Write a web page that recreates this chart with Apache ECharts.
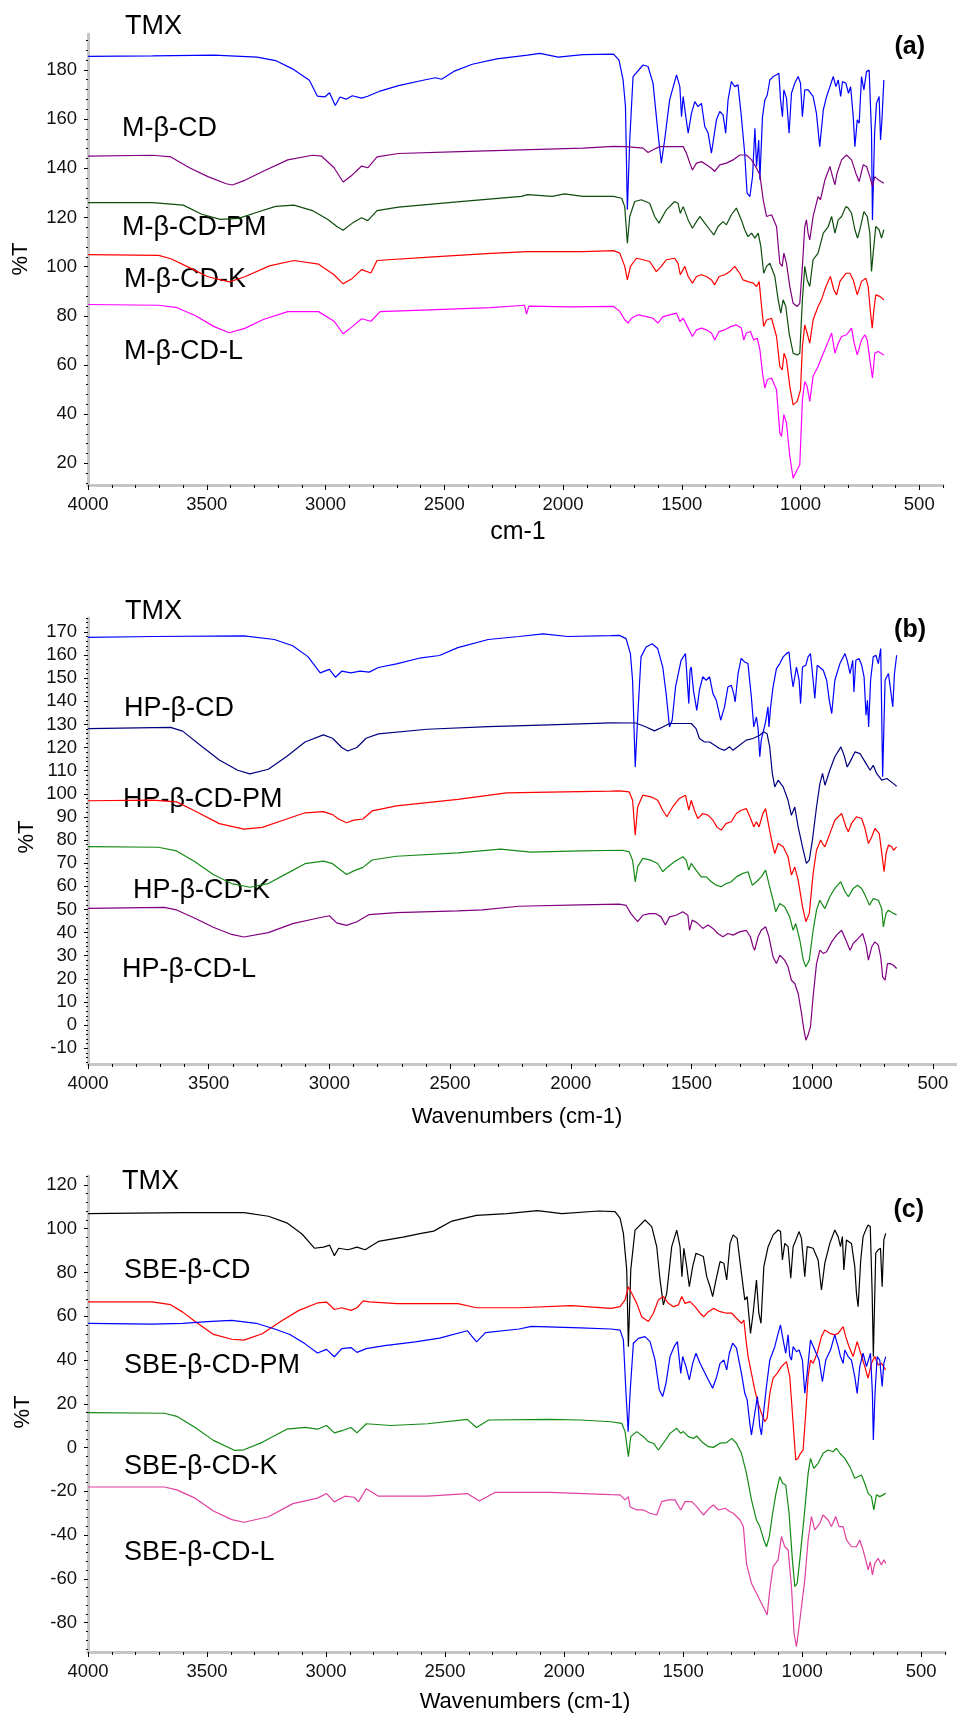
<!DOCTYPE html>
<html>
<head>
<meta charset="utf-8">
<title>FTIR spectra</title>
<script src="https://cdn.jsdelivr.net/npm/echarts@6/dist/echarts.min.js"></script>
<style>
  html, body { margin: 0; padding: 0; background: #ffffff; }
  #chart { width: 957px; height: 1713px; }
</style>
</head>
<body>
<div id="chart"></div>
<script>
// ---------- axis tick values ----------
const X_TICKS = [4000, 3500, 3000, 2500, 2000, 1500, 1000, 500];
const Y_TICKS_A = [20, 40, 60, 80, 100, 120, 140, 160, 180];
const Y_TICKS_B = [-10, 0, 10, 20, 30, 40, 50, 60, 70, 80, 90, 100, 110, 120, 130, 140, 150, 160, 170];
const Y_TICKS_C = [-80, -60, -40, -20, 0, 20, 40, 60, 80, 100, 120];

// ---------- panel (a): [wavenumber cm-1, %T] ----------
const TMX_A = [[4000,185.5],[3728,185.7],[3469,186],[3288,185.2],[3210,183.8],[3133,180.1],[3068,175.8],[3034,169.3],[3003,169],[2983,170.7],[2959,165.5],[2939,169],[2913,168.1],[2887,169.5],[2848,168.5],[2822,169.3],[2770,171.4],[2693,173.6],[2589,175.8],[2537,176.8],[2511,176.2],[2460,179.4],[2382,182.3],[2279,184.5],[2149,186],[2097,186.7],[2020,185.2],[1916,186.2],[1787,186.4],[1764,184],[1747,175.9],[1737,165.1],[1729,123.1],[1719,151.5],[1705,177.3],[1663,182],[1642,181.4],[1621,174.6],[1600,154.3],[1586,142.1],[1572,151.5],[1551,167.8],[1522,178],[1508,173.2],[1501,161],[1494,169.2],[1483,161],[1473,154.3],[1459,162.4],[1445,167.1],[1431,165.1],[1417,166.4],[1403,157],[1389,154.3],[1375,146.1],[1354,159.7],[1340,163.1],[1326,161.7],[1315,154.3],[1305,167.8],[1291,175.3],[1277,173.2],[1263,173.9],[1249,161],[1235,146.1],[1225,129.9],[1213,128.5],[1202,136.6],[1192,156.3],[1185,140.7],[1176,151.5],[1171,135.3],[1160,161],[1150,167.8],[1140,169.8],[1129,175.9],[1115,177.3],[1101,178],[1091,178.6],[1084,167.8],[1076,161],[1070,171.9],[1059,168.5],[1048,154.3],[1038,170.5],[1024,174.6],[1010,177.3],[1000,174.6],[992,161],[982,171.9],[968,171.9],[947,169.2],[933,162.4],[919,148.8],[904,163.7],[890,169.2],[876,173.2],[862,177.3],[851,173.2],[841,175.9],[831,169.2],[823,175.3],[809,174.6],[798,170.5],[789,173.2],[778,161],[771,148.8],[761,159.7],[753,158.3],[743,177.3],[733,171.9],[722,179.3],[711,180],[701,154.3],[697,119],[688,154.3],[680,166.4],[669,169.2],[663,151.5],[657,159.7],[649,175.9]];
const MBCD_A = [[4000,144.9],[3728,145.3],[3651,144.6],[3573,140.2],[3495,136.6],[3418,133.7],[3392,133.2],[3340,135.1],[3262,138.8],[3159,143.4],[3055,145.3],[3016,144.9],[2964,140.2],[2926,134.4],[2887,137.3],[2848,140.9],[2822,140.2],[2783,144.6],[2693,146],[2434,146.8],[2175,147.5],[1916,148.2],[1787,148.9],[1733,148.8],[1663,148.2],[1642,146.4],[1621,147.5],[1593,148.8],[1565,148.8],[1494,148.8],[1480,146.1],[1466,142.1],[1455,139.3],[1438,142.1],[1417,142.7],[1396,141.4],[1375,140],[1361,138.7],[1340,141.4],[1312,142.1],[1284,143.4],[1256,145.4],[1228,145.4],[1206,143.4],[1185,140],[1171,137.3],[1157,127.2],[1143,120.4],[1122,121.1],[1101,116.3],[1087,101.4],[1077,100.1],[1070,105.5],[1059,101.4],[1045,91.9],[1031,85.1],[1014,83.8],[1003,85.1],[992,100.1],[982,116.3],[975,119],[968,113.6],[961,110.9],[947,120.4],[926,128.5],[916,127.2],[897,135.3],[876,140.7],[865,136.6],[855,133.3],[846,138],[827,143.4],[806,145.4],[785,143.4],[767,138],[753,134.6],[736,141.4],[722,140.7],[708,136.6],[697,132.6],[687,136.6],[673,135.3],[649,133.9]];
const MBCD_PM_A = [[4000,126],[3728,126],[3599,125],[3521,121.3],[3443,119.2],[3366,119.6],[3288,122.1],[3210,124.5],[3133,125],[3055,122.8],[2990,119.2],[2952,116.3],[2926,114.8],[2887,117.7],[2848,119.9],[2822,118.7],[2783,122.8],[2693,124.2],[2434,126.4],[2175,128.6],[2149,129.3],[2045,128.6],[1994,129.6],[1916,128.6],[1787,128.6],[1753,127.8],[1740,124.4],[1729,109.5],[1719,120.4],[1698,126.5],[1670,127.2],[1635,125.8],[1614,120.4],[1596,117.7],[1565,123.1],[1530,126.5],[1516,125.8],[1506,121.7],[1494,124.4],[1473,119],[1455,115.6],[1438,118.3],[1424,120.4],[1403,117.7],[1382,115],[1365,112.9],[1347,116.3],[1326,118.3],[1312,117],[1291,121.1],[1270,123.8],[1249,119],[1235,115],[1221,112.2],[1206,113.6],[1192,111.6],[1178,113.6],[1167,108.2],[1155,97.3],[1143,100.1],[1129,101.4],[1108,96],[1094,86.5],[1083,81.1],[1073,86.5],[1062,83.8],[1048,73],[1031,64.8],[1014,64.1],[1003,64.8],[992,86.5],[982,100.1],[972,94.6],[961,91.9],[947,102.8],[926,105.5],[904,113.6],[883,116.3],[869,120.4],[855,113.6],[841,119],[827,120.4],[809,124.4],[799,123.8],[785,121.7],[771,115],[760,111.6],[750,115],[733,122.4],[719,120.4],[708,113.6],[701,98],[694,105.5],[683,116.3],[669,115],[659,111.6],[649,115]];
const MBCD_K_A = [[4000,104.9],[3702,104.6],[3651,103.2],[3573,99.6],[3495,95.9],[3405,93.8],[3340,95.9],[3236,100.3],[3133,102.5],[3029,101],[2964,96.7],[2926,93],[2887,95.2],[2848,98.8],[2809,97.4],[2783,102.5],[2563,103.9],[2304,105.4],[2149,106.1],[1916,106.1],[1787,106.5],[1761,105.5],[1740,100.1],[1729,94.6],[1716,100.1],[1691,103.4],[1663,102.8],[1635,102.1],[1607,98],[1586,100.1],[1565,102.8],[1530,103.4],[1516,101.4],[1506,96.7],[1487,100.1],[1473,96],[1455,93.3],[1438,96],[1417,96.7],[1396,96],[1375,94.6],[1361,92.6],[1343,96],[1319,96.7],[1298,98],[1277,100.1],[1256,97.3],[1242,94.6],[1221,93.9],[1199,93.3],[1185,91.9],[1174,93.9],[1164,83.8],[1155,75.7],[1143,78.3],[1122,79],[1101,71.6],[1087,59.4],[1077,58],[1069,64.8],[1059,62.1],[1045,51.3],[1031,43.8],[1014,45.2],[1000,49.9],[992,67.5],[982,76.3],[972,72.9],[961,68.9],[947,78.3],[926,83.8],[912,86.5],[893,91.9],[874,96],[860,90.6],[848,88.5],[834,94],[809,97.3],[792,97.3],[778,94.6],[761,88.5],[743,94],[725,95.3],[715,91.9],[705,81.1],[698,75],[691,82.4],[683,88.5],[666,87.9],[649,86.5]];
const MBCD_L_A = [[4000,84.6],[3702,84.3],[3625,83.3],[3547,80],[3469,75.6],[3405,73.1],[3340,74.9],[3262,78.5],[3159,81.7],[3029,81.7],[2964,77.8],[2926,72.7],[2887,75.6],[2848,78.8],[2809,77.8],[2770,81.7],[2563,82.4],[2304,83.3],[2162,84.3],[2154,80.7],[2144,83.9],[1968,83.6],[1787,83.8],[1761,81.8],[1740,78.4],[1726,77],[1712,79],[1684,80.4],[1649,79.7],[1621,79],[1600,77],[1579,79.7],[1551,80.4],[1522,81.1],[1508,77.7],[1494,79],[1473,75],[1455,71.6],[1438,74.3],[1417,75],[1396,74.3],[1375,73],[1361,70.2],[1343,73.6],[1319,74.3],[1291,75.7],[1270,76.3],[1249,75],[1239,70.2],[1228,73],[1211,73.6],[1197,70.2],[1182,70.9],[1171,66.2],[1160,56.7],[1150,50.6],[1140,54],[1122,54.7],[1101,49.9],[1087,32.3],[1080,31],[1070,39.8],[1059,36.4],[1045,22.8],[1031,14],[1014,17.4],[1003,19.4],[992,45.9],[982,53.3],[972,51.3],[961,45.2],[947,55.4],[926,59.4],[904,64.8],[883,69.6],[869,73],[855,64.8],[841,68.9],[827,71.6],[806,72.3],[785,75],[774,68.9],[761,64.1],[743,70.2],[729,72.3],[719,70.2],[708,62.1],[697,54.7],[687,64.8],[673,65.5],[649,64.1]];

// ---------- panel (b) ----------
const TMX_B = [[4000,167.6],[3734,168],[3354,168.3],[3228,166.7],[3152,164],[3089,159.3],[3038,152.3],[3000,153.8],[2975,150.4],[2949,153],[2911,152.3],[2873,153],[2835,152.6],[2797,154.6],[2722,156.2],[2620,158.8],[2544,159.8],[2468,163.2],[2342,166.7],[2215,168],[2114,169.1],[2013,168],[1835,168.4],[1799,168.5],[1771,167.1],[1753,160.6],[1744,149.1],[1733,111.6],[1722,134.7],[1709,159.2],[1688,163.5],[1663,164.9],[1640,162.8],[1619,154.8],[1605,143.3],[1591,128.9],[1580,131.8],[1566,146.2],[1543,157.7],[1525,160.6],[1511,139],[1506,153.4],[1501,154.8],[1492,144.8],[1478,136.1],[1467,144.8],[1453,150.6],[1439,149.1],[1425,150.6],[1411,143.3],[1397,140.4],[1379,131.8],[1363,137.6],[1349,146.2],[1335,146.9],[1325,143.3],[1319,139.7],[1307,152],[1294,158.5],[1280,157],[1266,156.3],[1252,141.9],[1242,128.9],[1231,133.2],[1224,128.2],[1217,116],[1211,123.2],[1201,127.5],[1193,131.1],[1183,137.6],[1179,128.9],[1172,137.6],[1162,146.2],[1148,154.1],[1134,156.3],[1120,159.2],[1107,160.6],[1096,161.3],[1086,151.3],[1079,146.2],[1065,154.8],[1054,149.1],[1048,139],[1040,154.8],[1026,155.6],[1017,159.2],[1007,160.6],[996,149.1],[989,141.2],[979,155.6],[954,153.4],[940,149.1],[929,140.4],[919,134.7],[906,149.1],[885,156.3],[864,160.6],[855,157.7],[843,152],[832,157.7],[827,144],[819,157.7],[806,158.5],[795,155.6],[785,150.6],[777,134],[771,140.4],[766,128.9],[758,149.1],[747,159.2],[736,159.9],[726,156.3],[716,162.8],[708,107.4],[698,149.1],[684,152],[677,152.7],[666,137.6],[659,152],[650,159.9]];
const HPBCD_B = [[4000,128.2],[3658,128.7],[3608,127.1],[3532,120.8],[3456,114.6],[3380,110.2],[3329,108.6],[3253,110.6],[3177,116.1],[3101,122.4],[3025,125.5],[2987,124],[2949,120],[2924,118.5],[2886,120],[2848,124],[2797,125.9],[2595,127.9],[2342,129],[2089,129.8],[1835,130.7],[1730,130.6],[1688,128.9],[1653,127.2],[1619,128.9],[1591,130.4],[1501,130.4],[1481,128.2],[1467,123.9],[1446,122.4],[1425,122.4],[1404,121],[1384,119.6],[1363,118.8],[1342,120.3],[1328,118.8],[1301,121],[1273,123.2],[1245,123.9],[1217,125.3],[1201,126.8],[1187,126],[1176,120.3],[1165,108.8],[1155,103],[1141,105.9],[1120,103],[1100,97.2],[1086,90.7],[1072,94.3],[1058,85.7],[1040,77.1],[1024,69.9],[1012,71.3],[999,80],[982,94.3],[968,104.4],[957,108.8],[947,103.7],[927,110.2],[906,116],[881,120.3],[868,116.7],[855,111.6],[843,113.8],[823,118.1],[802,117.4],[781,113.8],[760,110.2],[747,112.3],[733,108.8],[712,105.9],[691,106.6],[663,104.4],[650,103.3]];
const HPBCD_PM_B = [[4000,97],[3734,97.3],[3633,96.5],[3557,92.6],[3456,87.1],[3354,84.7],[3278,85.5],[3177,89.1],[3101,91.8],[3025,92.3],[2987,91],[2962,89.1],[2929,87.5],[2899,88.6],[2861,89.1],[2823,92.6],[2722,94.8],[2468,97.6],[2266,100.4],[2089,100.7],[1835,101.2],[1799,101.3],[1758,100.8],[1744,97.2],[1733,82.1],[1723,94.3],[1702,99.4],[1668,98.7],[1640,97.2],[1619,92.9],[1602,90.1],[1578,94.3],[1550,98],[1525,99.4],[1511,92.9],[1501,97.2],[1488,92.9],[1474,89.3],[1453,91.5],[1432,90.8],[1411,88.6],[1395,85.7],[1377,84.3],[1356,87.2],[1335,87.9],[1314,91.5],[1294,92.9],[1273,93.6],[1252,88.6],[1242,85.7],[1231,87.9],[1220,85.7],[1204,91.5],[1193,93.6],[1179,85.7],[1165,78.5],[1155,74.2],[1141,78.5],[1120,77.1],[1100,72.8],[1086,64.9],[1072,68.4],[1058,62.7],[1040,51.2],[1026,44.7],[1012,48.2],[996,65.6],[982,75.6],[965,80],[957,78.5],[947,77.1],[927,82.8],[906,88.6],[878,91.5],[860,85.7],[850,83.6],[837,87.2],[816,90.1],[795,89.3],[781,85],[767,78.5],[753,81.4],[740,85],[722,82.8],[708,71.3],[702,66.3],[694,74.2],[684,77.8],[670,77.1],[663,75.6],[650,77.1]];
const HPBCD_K_B = [[4000,77.2],[3709,76.9],[3633,75.3],[3557,70.6],[3481,65.1],[3405,61.2],[3329,59.6],[3253,61.2],[3177,65.5],[3101,69.8],[3025,70.9],[2987,69.8],[2949,66.7],[2929,65.1],[2899,66.7],[2861,68.2],[2823,71.4],[2722,73],[2468,74.5],[2291,76.1],[2165,74.8],[1962,75.3],[1785,75.6],[1758,74.9],[1744,71.3],[1733,61.9],[1723,68.4],[1702,72.1],[1668,71.3],[1640,69.9],[1619,66.3],[1598,68.4],[1571,70.6],[1536,72.8],[1522,71.3],[1511,67],[1501,69.9],[1481,67],[1460,64.1],[1439,64.1],[1418,62],[1397,60.5],[1377,59.8],[1356,61.2],[1335,62],[1314,64.1],[1287,65.6],[1266,66.3],[1248,60.5],[1231,62],[1211,64.1],[1193,67],[1176,59.8],[1162,54],[1151,49],[1134,52.6],[1114,51.2],[1093,46.8],[1079,41],[1068,43.9],[1051,36.7],[1037,28.1],[1026,25.2],[1012,28.1],[996,41],[982,49.7],[968,54],[957,51.9],[947,50.4],[927,55.5],[906,59.1],[882,62],[864,57.7],[850,55.5],[830,59.1],[812,60.5],[795,59.1],[781,56.2],[763,51.9],[747,54.7],[726,54],[712,50.4],[705,42.5],[694,48.3],[684,49.7],[663,48.3],[650,47.6]];
const HPBCD_L_B = [[4000,50.5],[3684,50.9],[3633,49.8],[3557,46.2],[3481,42.3],[3405,39.2],[3354,38.1],[3253,40],[3152,43.9],[3051,46.2],[3000,47.3],[2970,44.2],[2929,43.1],[2886,44.7],[2835,47.8],[2722,48.6],[2468,49.4],[2367,49.8],[2215,51.4],[1962,52],[1799,52.3],[1771,51.8],[1751,48.2],[1723,44.7],[1702,47.5],[1674,48.2],[1647,48.2],[1626,46.8],[1608,43.3],[1591,46.8],[1564,47.5],[1536,49],[1515,47.5],[1508,41],[1497,45.4],[1474,44],[1453,41.8],[1432,43.3],[1411,41.8],[1391,39.6],[1370,38.2],[1349,39.6],[1328,38.9],[1301,40.3],[1273,41],[1256,38.2],[1245,33.9],[1238,32.4],[1224,38.2],[1211,41],[1193,42.5],[1179,38.2],[1162,29.5],[1148,26.6],[1134,30.2],[1114,28.1],[1100,25.2],[1086,19.4],[1072,18],[1058,13.7],[1044,5],[1035,-1.5],[1026,-6.5],[1017,-4.3],[1007,-0.7],[996,12.3],[982,26.6],[968,32.4],[954,31],[940,31.7],[919,36],[899,38.9],[878,41],[860,36.7],[843,32.4],[830,35.3],[809,37.5],[791,39.6],[777,34.6],[767,28.1],[753,33.9],[740,36],[726,34.6],[716,29.5],[708,20.9],[698,19.4],[688,26.6],[677,26.6],[663,25.9],[650,24.5]];

// ---------- panel (c) ----------
const TMX_C = [[4000,106.9],[3602,107.4],[3345,107.4],[3242,105.7],[3165,102.7],[3101,97.6],[3049,91.1],[3011,91.6],[2985,92.5],[2965,87.7],[2947,91.1],[2908,90.4],[2870,91.6],[2836,90.4],[2780,94.2],[2677,96.2],[2600,97.9],[2548,98.9],[2471,103.5],[2368,106.1],[2240,106.9],[2112,108.3],[2009,106.9],[1855,108.1],[1786,107.8],[1765,104.8],[1751,97.9],[1737,81.2],[1730,46.1],[1720,81.2],[1702,99.4],[1660,104],[1632,101],[1611,91.8],[1597,76.6],[1583,65.2],[1569,70.5],[1548,91.8],[1527,99.4],[1513,91.8],[1505,78.1],[1497,91.1],[1485,82.7],[1474,73.5],[1460,82.7],[1446,88.8],[1429,88],[1415,87.3],[1401,78.1],[1387,73.5],[1376,69],[1362,76.6],[1345,85],[1329,84.2],[1317,76.6],[1303,93.3],[1290,97.2],[1273,95.6],[1255,79.6],[1241,67.5],[1231,69],[1217,52.2],[1206,61.4],[1192,76.6],[1182,61.4],[1173,56.8],[1161,82.7],[1143,91.8],[1122,97.2],[1101,99.4],[1091,98.7],[1083,85.7],[1073,93.3],[1059,91.8],[1048,77.4],[1038,91.8],[1024,95.6],[1013,98.7],[1003,95.6],[989,78.1],[979,91.8],[954,91.1],[933,85.7],[919,72],[905,84.2],[884,93.3],[863,99.4],[849,96.4],[839,91.8],[831,96.4],[825,81.2],[814,94.9],[793,93.3],[779,82.7],[772,70.5],[765,64.4],[754,85.7],[744,96.4],[733,99.4],[723,101.7],[714,101],[706,70.5],[701,41.6],[691,88.8],[681,90.3],[671,91.1],[664,73.5],[657,94.9],[649,97.9]];
const SBECD_C = [[4000,66.6],[3730,66.6],[3653,65.3],[3602,61.9],[3550,57.6],[3473,51.7],[3396,49.5],[3345,49.1],[3268,52],[3191,57.6],[3114,62.7],[3036,66.1],[2998,66.5],[2965,63.1],[2934,63.9],[2895,62.7],[2870,63.9],[2844,67],[2818,66.6],[2702,65.8],[2446,65.8],[2368,63.9],[2189,63.9],[1970,64.9],[1803,63.6],[1765,64.4],[1744,67.5],[1730,73.5],[1716,70.5],[1695,65.9],[1674,59.8],[1646,57.6],[1625,61.4],[1604,67.5],[1583,69],[1562,65.9],[1541,64.4],[1520,65.2],[1506,69],[1492,65.9],[1471,66.7],[1450,64.4],[1429,61.4],[1413,59.8],[1394,62.1],[1373,63.6],[1345,62.1],[1317,61.4],[1296,61.4],[1276,59.1],[1255,56.8],[1245,58.3],[1236,49.2],[1227,41.6],[1213,33.9],[1199,26.3],[1185,20.2],[1171,15.7],[1157,11.9],[1147,13.4],[1136,24.8],[1122,31.7],[1105,33.9],[1087,37],[1066,39.3],[1052,32.4],[1038,11.1],[1027,-5.7],[1017,-4.9],[1007,-2.6],[996,-1.1],[985,15.7],[975,32.4],[965,40],[954,38.5],[937,43.1],[919,50.7],[905,53.7],[884,52.2],[863,51.5],[849,52.2],[828,55.3],[817,50.7],[803,46.1],[786,41.6],[769,48.4],[754,43.1],[737,37],[723,31.7],[709,38.5],[695,41.6],[681,37.7],[667,38.5],[649,35.5]];
const SBECD_PM_C = [[4000,56.8],[3730,56.4],[3602,56.8],[3499,57.6],[3396,58.1],[3293,56.8],[3216,54.2],[3152,51.7],[3088,47.4],[3036,43.2],[2998,44.9],[2965,41.5],[2934,45.2],[2895,45.7],[2870,43.5],[2831,45.2],[2754,46.6],[2625,48.3],[2523,50],[2407,53.4],[2368,48.3],[2330,52.5],[2189,54.2],[2137,55.4],[1932,54.7],[1803,54.2],[1765,53.7],[1751,49.2],[1740,24.8],[1731,7.3],[1723,24.8],[1709,47.7],[1688,49.9],[1660,50.7],[1639,48.4],[1618,40],[1600,26.3],[1586,23.3],[1572,29.4],[1555,41.6],[1538,46.1],[1524,48.4],[1510,33.9],[1502,41.6],[1488,37],[1474,30.9],[1460,38.5],[1446,43.1],[1429,38.5],[1415,35.5],[1394,30.9],[1376,27.1],[1359,32.4],[1345,38.5],[1329,40],[1317,35.5],[1306,43.1],[1292,47.7],[1276,45.4],[1255,33.9],[1241,24.8],[1231,21.8],[1220,11.1],[1213,5.8],[1199,15.7],[1188,23.3],[1178,9.6],[1171,5.8],[1161,17.2],[1150,27.9],[1136,40],[1115,46.1],[1101,52.2],[1091,56],[1080,49.2],[1069,43.1],[1059,51.5],[1052,41.6],[1045,40],[1038,46.1],[1024,43.8],[1013,44.6],[999,40],[989,24.8],[979,33.9],[965,49.2],[947,44.6],[929,40],[915,30.1],[901,40],[881,44.6],[863,51.5],[849,46.1],[839,41.6],[828,38.5],[821,44.6],[807,41.6],[793,40],[779,32.4],[769,24.8],[758,37],[744,43.1],[730,37],[713,43.1],[705,24.8],[701,3.5],[694,24.8],[685,41.6],[674,40],[664,27.9],[657,38.5],[649,41.6]];
const SBECD_K_C = [[4000,16],[3679,15.7],[3627,14.3],[3550,9.2],[3473,3.3],[3383,-1.3],[3345,-1],[3268,2.4],[3165,8.4],[3088,9.2],[3036,8.4],[2998,10.1],[2965,6.7],[2929,7.9],[2895,9.2],[2870,6.7],[2831,10.9],[2728,10.1],[2574,10.9],[2407,12.9],[2368,9.2],[2317,12.6],[2060,12.9],[1932,12.6],[1803,11.8],[1758,11.1],[1744,7.3],[1730,-4.1],[1720,5],[1695,7.3],[1667,5],[1646,2.7],[1625,2],[1604,-1.1],[1583,2],[1555,6.5],[1527,8.8],[1510,6.5],[1499,7.3],[1478,5],[1457,4.2],[1443,5.3],[1422,2.7],[1394,0.4],[1373,0.1],[1345,2],[1317,2.3],[1296,4.2],[1276,2],[1255,-2.6],[1234,-11.8],[1213,-23.9],[1192,-33.1],[1178,-36.1],[1161,-42.2],[1150,-45.3],[1138,-40.7],[1124,-30],[1110,-20.9],[1094,-13.3],[1082,-16.3],[1069,-17.1],[1055,-30],[1041,-51.3],[1031,-63.5],[1021,-62],[1010,-51.3],[993,-33.1],[975,-11.8],[965,-4.9],[951,-9.5],[933,-7.2],[912,-2.6],[891,-1.1],[870,-1.9],[856,-0.3],[842,-2.6],[821,-4.9],[800,-8.7],[779,-14],[765,-13.3],[751,-12.5],[737,-16.3],[723,-20.9],[709,-22.4],[699,-28.5],[688,-21.6],[674,-22.4],[660,-21.6],[649,-20.9]];
const SBECD_L_C = [[4000,-18],[3679,-18],[3627,-19.3],[3550,-23.1],[3473,-29],[3396,-32.9],[3345,-34.1],[3242,-31.6],[3139,-25.6],[3036,-23.1],[2998,-21],[2965,-24.8],[2921,-22.2],[2882,-22.7],[2864,-24.8],[2831,-18.8],[2780,-22.2],[2574,-22.2],[2407,-21],[2356,-24.4],[2291,-20.5],[2060,-20.5],[1803,-21.5],[1765,-21.6],[1744,-23.9],[1730,-22.4],[1723,-27],[1695,-28.5],[1667,-28.5],[1639,-30],[1611,-30.8],[1590,-24.7],[1562,-23.9],[1534,-23.9],[1510,-28.5],[1492,-24.7],[1464,-24.7],[1443,-27],[1415,-30.8],[1390,-27.7],[1373,-26.2],[1352,-28.5],[1324,-27.7],[1303,-29.3],[1289,-30],[1261,-33.1],[1247,-36.1],[1234,-52.9],[1213,-62],[1192,-66.6],[1171,-71.1],[1157,-74.2],[1147,-76.5],[1136,-65.1],[1122,-54.4],[1101,-51.3],[1087,-40.7],[1073,-45.3],[1059,-46.8],[1045,-63.5],[1034,-84.9],[1024,-91],[1013,-81.8],[1003,-72.7],[989,-60.5],[975,-42.2],[961,-31.5],[947,-37.6],[926,-34.6],[912,-30.8],[891,-33.1],[877,-36.1],[859,-31.5],[845,-36.1],[828,-36.1],[814,-42.2],[793,-45.3],[772,-45.3],[758,-42.2],[744,-46.8],[733,-51.3],[723,-55.9],[714,-52.1],[705,-58.2],[695,-52.9],[681,-50.6],[667,-53.6],[657,-51.3],[649,-52.9]];

// ---------- layout ----------
const FONT = '"Liberation Sans", Arial, Helvetica, sans-serif';
const X_MIN = 400, X_MAX = 4000;

const panels = [
  {
    grid: { left: 88, top: 34, width: 855, height: 451 },
    yMin: 11.2, yMax: 194.6, yTicks: Y_TICKS_A, yMinorStep: 4,
    series: [
      { name: 'TMX', data: TMX_A, color: '#0000ff' },
      { name: 'M-β-CD', data: MBCD_A, color: '#800080' },
      { name: 'M-β-CD-PM', data: MBCD_PM_A, color: '#0d4d0d' },
      { name: 'M-β-CD-K', data: MBCD_K_A, color: '#ff0000' },
      { name: 'M-β-CD-L', data: MBCD_L_A, color: '#ff00ff' }
    ]
  },
  {
    grid: { left: 88, top: 618, width: 869, height: 446 },
    yMin: -16.8, yMax: 176, yTicks: Y_TICKS_B, yMinorStep: 2,
    series: [
      { name: 'TMX', data: TMX_B, color: '#0000ff' },
      { name: 'HP-β-CD', data: HPBCD_B, color: '#000080' },
      { name: 'HP-β-CD-PM', data: HPBCD_PM_B, color: '#ff0000' },
      { name: 'HP-β-CD-K', data: HPBCD_K_B, color: '#168a16' },
      { name: 'HP-β-CD-L', data: HPBCD_L_B, color: '#800080' }
    ]
  },
  {
    grid: { left: 88, top: 1176, width: 857, height: 476 },
    yMin: -93.4, yMax: 124.1, yTicks: Y_TICKS_C, yMinorStep: 4,
    series: [
      { name: 'TMX', data: TMX_C, color: '#000000' },
      { name: 'SBE-β-CD', data: SBECD_C, color: '#ff0000' },
      { name: 'SBE-β-CD-PM', data: SBECD_PM_C, color: '#0000ff' },
      { name: 'SBE-β-CD-K', data: SBECD_K_C, color: '#138a13' },
      { name: 'SBE-β-CD-L', data: SBECD_L_C, color: '#e040a0' }
    ]
  }
];

// curve labels, panel tags and axis titles (pixel layout)
const curveLabels = [
  ['TMX', 125, 27], ['M-β-CD', 122, 129], ['M-β-CD-PM', 122, 228], ['M-β-CD-K', 124, 280], ['M-β-CD-L', 124, 352],
  ['TMX', 125, 612], ['HP-β-CD', 124, 709], ['HP-β-CD-PM', 123, 800], ['HP-β-CD-K', 133, 891], ['HP-β-CD-L', 122, 970],
  ['TMX', 122, 1182], ['SBE-β-CD', 124, 1271], ['SBE-β-CD-PM', 124, 1366], ['SBE-β-CD-K', 124, 1467], ['SBE-β-CD-L', 124, 1553]
];
const panelTags = [['(a)', 925, 47], ['(b)', 926, 630], ['(c)', 924, 1210]];
const xTitles = [['cm-1', 518, 532, 25], ['Wavenumbers (cm-1)', 517, 1117, 22], ['Wavenumbers (cm-1)', 525, 1702, 22]];
const yTitles = [['%T', 21, 259], ['%T', 27, 837], ['%T', 23, 1412]];

function stepValues(min, max, step) {
  const out = [];
  for (let v = Math.ceil(min / step) * step; v <= max + 1e-9; v += step) out.push(+v.toFixed(6));
  return out;
}
const X_MINOR = stepValues(X_MIN, X_MAX, 100);

const AXIS_LINE = { show: true, onZero: false, lineStyle: { color: '#c6c6c6', width: 3 } };
const plainNumber = v => String(v);

const grids = [], xAxes = [], yAxes = [], series = [];
panels.forEach((p, i) => {
  grids.push(Object.assign({ containLabel: false }, p.grid));
  // major x axis with labels
  xAxes.push({
    type: 'value', gridIndex: i, min: X_MIN, max: X_MAX, inverse: true, position: 'bottom',
    axisLine: AXIS_LINE,
    axisTick: { show: true, customValues: X_TICKS, length: 5, lineStyle: { color: '#000', width: 1 } },
    axisLabel: { show: true, customValues: X_TICKS, formatter: plainNumber, margin: 10, fontSize: 18.5, fontFamily: FONT, color: '#111' },
    splitLine: { show: false }
  });
  // minor x ticks every 100 cm-1
  xAxes.push({
    type: 'value', gridIndex: i, min: X_MIN, max: X_MAX, inverse: true, position: 'bottom',
    axisLine: { show: false, onZero: false },
    axisTick: { show: true, customValues: X_MINOR, length: 3, lineStyle: { color: '#000', width: 1 } },
    axisLabel: { show: false },
    splitLine: { show: false }
  });
  // major y axis with labels
  yAxes.push({
    type: 'value', gridIndex: i, min: p.yMin, max: p.yMax, position: 'left',
    axisLine: AXIS_LINE,
    axisTick: { show: true, customValues: p.yTicks, length: 4, lineStyle: { color: '#000', width: 1 } },
    axisLabel: { show: true, customValues: p.yTicks, formatter: plainNumber, margin: 11, fontSize: 18.5, fontFamily: FONT, color: '#111' },
    splitLine: { show: false }
  });
  // minor y ticks
  yAxes.push({
    type: 'value', gridIndex: i, min: p.yMin, max: p.yMax, position: 'left',
    axisLine: { show: false, onZero: false },
    axisTick: { show: true, customValues: stepValues(p.yMin, p.yMax, p.yMinorStep), length: 2, lineStyle: { color: '#000', width: 1 } },
    axisLabel: { show: false },
    splitLine: { show: false }
  });
  p.series.forEach(s => {
    series.push({
      type: 'line', name: s.name, xAxisIndex: 2 * i, yAxisIndex: 2 * i,
      data: s.data, showSymbol: false, symbol: 'none', silent: true,
      lineStyle: { color: s.color, width: 1.2 }, itemStyle: { color: s.color },
      clip: true
    });
  });
});

const graphic = [];
curveLabels.forEach(([t, x, y]) => graphic.push({
  type: 'text', x, y, silent: true,
  style: { text: t, font: '27px ' + FONT, fill: '#000', align: 'left', verticalAlign: 'middle' }
}));
panelTags.forEach(([t, x, y]) => graphic.push({
  type: 'text', x, y, silent: true,
  style: { text: t, font: 'bold 25px ' + FONT, fill: '#000', align: 'right', verticalAlign: 'middle' }
}));
xTitles.forEach(([t, x, y, fs]) => graphic.push({
  type: 'text', x, y, silent: true,
  style: { text: t, font: fs + 'px ' + FONT, fill: '#000', align: 'center', verticalAlign: 'middle' }
}));
yTitles.forEach(([t, x, y]) => graphic.push({
  type: 'text', x, y, rotation: Math.PI / 2, silent: true,
  style: { text: t, font: '22px ' + FONT, fill: '#000', align: 'center', verticalAlign: 'middle' }
}));

const chart = echarts.init(document.getElementById('chart'), null, { renderer: 'canvas' });
chart.setOption({
  backgroundColor: '#ffffff',
  animation: false,
  grid: grids,
  xAxis: xAxes,
  yAxis: yAxes,
  series: series,
  graphic: graphic
});
</script>
</body>
</html>
